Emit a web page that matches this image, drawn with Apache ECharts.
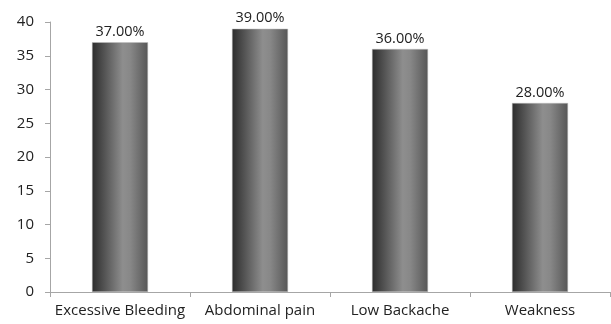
<!DOCTYPE html>
<html>
<head>
<meta charset="utf-8">
<script src="https://cdn.jsdelivr.net/npm/echarts@6/dist/echarts.min.js"></script>
<style>
  html, body { margin: 0; padding: 0; background: #fff; }
  #chart { width: 611px; height: 324px; }
</style>
</head>
<body>
<div id="chart"></div>
<script>
// data
var categories = ['Excessive Bleeding', 'Abdominal pain', 'Low Backache', 'Weakness'];
var values = [37, 39, 36, 28];
var yTicks = { min: 0, max: 40, interval: 5 };

var myChart = echarts.init(document.getElementById('chart'));
var textColor = '#222';
var font = 'Open Sans, Liberation Sans, sans-serif';

myChart.setOption({
  animation: false,
  grid: { left: 50, right: 1, top: 22, bottom: 32 },
  xAxis: {
    type: 'category',
    data: categories,
    axisLine: { lineStyle: { color: '#a6a6a6' } },
    axisTick: { show: true, alignWithLabel: false, length: 5, lineStyle: { color: '#a6a6a6' } },
    axisLabel: { color: textColor, fontSize: 15, fontFamily: font, margin: 11, interval: 0 }
  },
  yAxis: {
    type: 'value',
    min: yTicks.min,
    max: yTicks.max,
    interval: yTicks.interval,
    axisLine: { show: true, lineStyle: { color: '#a6a6a6' } },
    axisTick: { show: true, length: 5, lineStyle: { color: '#a6a6a6' } },
    splitLine: { show: false },
    axisLabel: { color: textColor, fontSize: 15, fontFamily: font, margin: 16 }
  },
  series: [{
    type: 'bar',
    data: values,
    barWidth: '40%',
    itemStyle: {
      color: new echarts.graphic.LinearGradient(0, 0, 1, 0, [
        { offset: 0, color: '#2c2c2c' },
        { offset: 0.55, color: '#8e8e8e' },
        { offset: 0.68, color: '#888888' },
        { offset: 1, color: '#575757' }
      ]),
      borderColor: '#bdbdbd',
      borderWidth: 0.5
    },
    label: {
      show: true,
      position: 'top',
      distance: 3,
      color: textColor,
      fontSize: 14.5,
      fontFamily: font,
      formatter: function (p) { return p.value.toFixed(2) + '%'; }
    }
  }]
});
</script>
</body>
</html>
